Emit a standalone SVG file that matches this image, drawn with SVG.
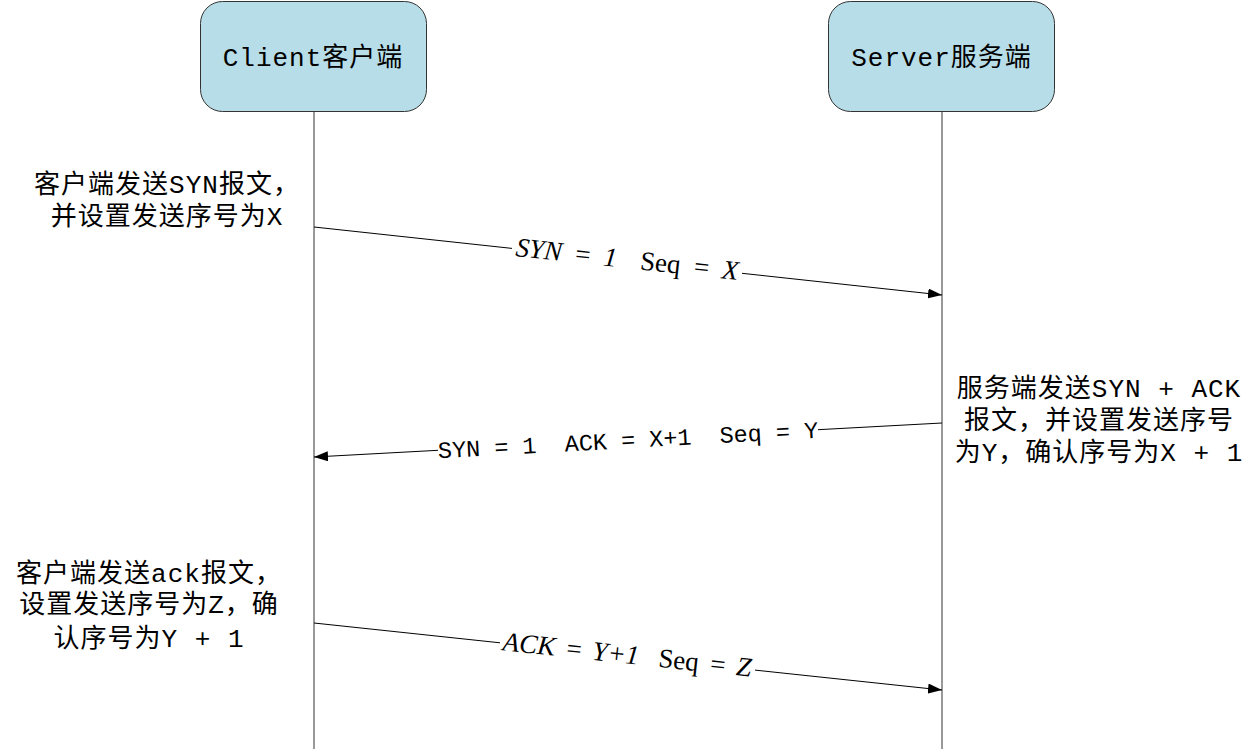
<svg xmlns="http://www.w3.org/2000/svg" width="1254" height="749" viewBox="0 0 1254 749">
<style>
.box{fill:#b7dde8;stroke:#333;stroke-width:1}
.life{stroke:#333;stroke-width:1;fill:none}
.conn{stroke:#000;stroke-width:1;fill:none}
.cn{font-family:"Liberation Mono","Noto Sans CJK SC",monospace;font-size:26px;letter-spacing:1px;fill:#000;white-space:pre}
.lbl{font-family:"Liberation Mono","Noto Sans CJK SC",monospace;font-size:23.5px;fill:#000;white-space:pre}
.it{font-family:"Liberation Serif","DejaVu Serif",serif;font-style:italic;font-size:27px;word-spacing:5px;fill:#000;white-space:pre}
.up{font-style:normal}
</style>
<defs>
<marker id="ah" viewBox="0 0 14 10" refX="14" refY="5" markerWidth="14" markerHeight="10" markerUnits="userSpaceOnUse" orient="auto">
<path d="M0,0 L14,5 L0,10 Z" fill="#000"/>
</marker>
</defs>
<g id="client">
<rect class="box" x="200.5" y="1.5" width="226" height="110" rx="22"/>
<text class="cn" x="313" y="66" text-anchor="middle">Client客户端</text>
</g>
<g id="server">
<rect class="box" x="828.5" y="1.5" width="226" height="110" rx="22"/>
<text class="cn" x="941.5" y="66" text-anchor="middle">Server服务端</text>
</g>
<g id="lifelines">
<line class="life" x1="314" y1="112" x2="314" y2="749"/>
<line class="life" x1="942" y1="112" x2="942" y2="749"/>
</g>
<g id="note-client-syn">
<text class="cn" x="167" y="193" text-anchor="middle">客户端发送SYN报文，</text>
<text class="cn" x="167" y="225" text-anchor="middle">并设置发送序号为X</text>
</g>
<g id="note-server-synack">
<text class="cn" x="1099" y="397" text-anchor="middle">服务端发送SYN + ACK</text>
<text class="cn" x="1099" y="429" text-anchor="middle">报文，并设置发送序号</text>
<text class="cn" x="1099" y="461" text-anchor="middle">为Y，确认序号为X + 1</text>
</g>
<g id="note-client-ack">
<text class="cn" x="149" y="582" text-anchor="middle">客户端发送ack报文，</text>
<text class="cn" x="149" y="613" text-anchor="middle">设置发送序号为Z，确</text>
<text class="cn" x="149" y="647" text-anchor="middle">认序号为Y + 1</text>
</g>
<g id="connectors">
<line class="conn" x1="314" y1="227" x2="512" y2="248.4"/>
<line class="conn" x1="742" y1="273.3" x2="942" y2="295" marker-end="url(#ah)"/>
<line class="conn" x1="942" y1="423" x2="818" y2="429.7"/>
<line class="conn" x1="438" y1="450.3" x2="314" y2="457" marker-end="url(#ah)"/>
<line class="conn" x1="314" y1="623" x2="500" y2="642.8"/>
<line class="conn" x1="755" y1="670.1" x2="942" y2="690" marker-end="url(#ah)"/>
<text class="it" transform="rotate(6.18 627 261)" x="627" y="268" text-anchor="middle">SYN = 1  <tspan class="up">Seq</tspan> = X</text>
<text class="lbl" transform="rotate(-3.1 628 440)" x="628" y="448" text-anchor="middle">SYN = 1  ACK = X+1  Seq = Y</text>
<text class="it" transform="rotate(6.09 627 656.5)" x="627" y="663.5" text-anchor="middle" style="word-spacing:3px">ACK = Y+1  <tspan class="up">Seq</tspan> = Z</text>
</g>
</svg>
